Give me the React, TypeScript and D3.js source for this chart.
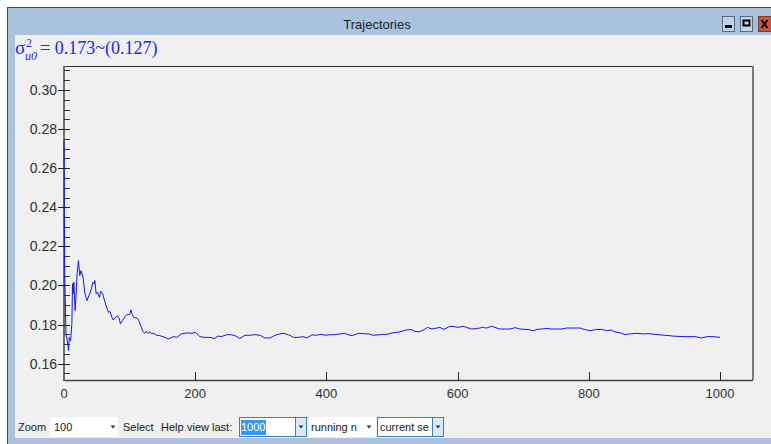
import React from "react";
import * as d3 from "d3";

// ---- data ----
const iterations = [
  0, 1, 3, 5, 7, 8, 10, 12, 13, 14, 15, 17, 19, 20, 22, 24, 26, 29, 32, 35, 38, 41, 44, 46, 47, 49,
  51, 54, 56, 59, 61, 65, 68, 70, 73, 75, 78, 81, 84, 86, 89, 93, 96, 100, 102, 104, 107, 111, 114,
  117, 120, 123, 125, 128, 131, 134, 137, 141, 146, 154, 159, 167, 172, 179, 187, 195, 200, 207, 215,
  223, 229, 235, 240, 248, 256, 262, 268, 276, 284, 291, 299, 306, 314, 322, 329, 334, 342, 350, 357,
  365, 370, 378, 385, 392, 398, 405, 413, 421, 428, 433, 439, 446, 451, 459, 465, 471, 479, 487, 493,
  500, 507, 515, 522, 529, 535, 541, 548, 554, 561, 568, 573, 579, 588, 596, 601, 608, 614, 621, 629,
  638, 644, 652, 657, 664, 672, 680, 688, 695, 703, 709, 715, 721, 728, 736, 743, 751, 759, 766, 776,
  787, 793, 802, 812, 820, 827, 834, 840, 848, 855, 863, 873, 883, 893, 904, 916, 931, 947, 962, 972,
  980, 990, 1000,
];
const values = [
  0.274, 0.2093, 0.1753, 0.1717, 0.1667, 0.1734, 0.1717, 0.1804, 0.2009, 0.1958, 0.2016, 0.1871,
  0.1991, 0.206, 0.2127, 0.205, 0.2076, 0.2042, 0.1957, 0.1922, 0.1948, 0.1973, 0.2016, 0.2008,
  0.2025, 0.1957, 0.1965, 0.1939, 0.197, 0.1957, 0.1931, 0.1888, 0.1862, 0.1867, 0.1837, 0.1823,
  0.1834, 0.1844, 0.1834, 0.1803, 0.182, 0.184, 0.1851, 0.1851, 0.1875, 0.1851, 0.1834, 0.1834,
  0.182, 0.1794, 0.1765, 0.1755, 0.1765, 0.1755, 0.1762, 0.1752, 0.1755, 0.1745, 0.1743, 0.1734,
  0.1726, 0.1738, 0.1734, 0.1752, 0.1757, 0.1755, 0.176, 0.1738, 0.1734, 0.1734, 0.1728, 0.1741,
  0.1738, 0.1748, 0.1747, 0.1741, 0.1728, 0.1745, 0.1745, 0.1748, 0.1745, 0.1731, 0.1731, 0.1745,
  0.1752, 0.1755, 0.1748, 0.1734, 0.1734, 0.1738, 0.1731, 0.1747, 0.1745, 0.175, 0.1745, 0.1748,
  0.1748, 0.1752, 0.1755, 0.1748, 0.1743, 0.1752, 0.1755, 0.1752, 0.1752, 0.1745, 0.1747, 0.175,
  0.175, 0.1757, 0.1759, 0.1765, 0.1772, 0.1774, 0.1765, 0.1762, 0.1772, 0.1785, 0.1777, 0.1782,
  0.1785, 0.1775, 0.1791, 0.1789, 0.1785, 0.1791, 0.1785, 0.1777, 0.1779, 0.1785, 0.1782, 0.1791,
  0.1785, 0.1777, 0.1777, 0.1777, 0.1784, 0.1777, 0.1775, 0.1774, 0.1767, 0.1775, 0.1777, 0.178,
  0.1777, 0.1777, 0.1777, 0.1782, 0.1782, 0.1782, 0.1775, 0.1768, 0.1775, 0.1775, 0.1768, 0.1772,
  0.1762, 0.1757, 0.1748, 0.1752, 0.1755, 0.1752, 0.1753, 0.1748, 0.1745, 0.174, 0.1738, 0.1738,
  0.1731, 0.1738, 0.1738, 0.1734,
];
const xTicks = [0, 200, 400, 600, 800, 1000];
const yTicks = [0.16, 0.18, 0.2, 0.22, 0.24, 0.26, 0.28, 0.3];
const titleText = "Trajectories";
const statValue = "= 0.173~(0.127)";

const W = 771;
const H = 444;
const plot = { left: 64, right: 753, top: 66, bottom: 380 };

export default function App() {
  const x = d3.scaleLinear().domain([0, 1000]).range([plot.left, 720]);
  const y = d3.scaleLinear().domain([0.1516, 0.3123]).range([plot.bottom, plot.top]);
  const pts: [number, number][] = iterations.map((it, i) => [it, values[i]]);
  const line = d3
    .line<[number, number]>()
    .x((d) => x(d[0]))
    .y((d) => y(d[1]));

  const minorY = d3.range(0.155, 0.3123, 0.005).filter(
    (v) => !yTicks.some((t) => Math.abs(t - v) < 1e-6)
  );

  const uiFont = "'Liberation Sans', Arial, sans-serif";
  const arrow = (cx: number, cy: number) => (
    <path d={`M${cx - 2.5},${cy - 1.5} L${cx + 2.5},${cy - 1.5} L${cx},${cy + 1.5} Z`} fill="#333" />
  );

  return (
    <div style={{ position: "absolute", left: 0, top: 0 }}>
      <svg width={W} height={H} style={{ display: "block" }}>
        <rect x={0} y={0} width={W} height={H} fill="#ffffff" />
        {/* window frame */}
        <rect x={7} y={7} width={W - 7} height={H - 7} fill="#a9c2dd" />
        <line x1={7} y1={7.5} x2={W} y2={7.5} stroke="#4a4a4a" />
        <line x1={7.5} y1={7} x2={7.5} y2={H} stroke="#4a4a4a" />
        <rect x={15} y={35} width={W - 15} height={403} fill="#f0f0f0" />
        {/* title */}
        <text
          x={377}
          y={29}
          textAnchor="middle"
          fontFamily={uiFont}
          fontSize={13}
          fill="#1e1e1e"
        >
          {titleText}
        </text>
        {/* title buttons */}
        <rect x={722.5} y={16.5} width={12} height={15} fill="#bfd2e6" stroke="#5a6a7c" />
        <rect x={725} y={25} width={7} height={3} fill="#000" />
        <rect x={740.5} y={16.5} width={12} height={15} fill="#bfd2e6" stroke="#5a6a7c" />
        <rect x={743.5} y={20.5} width={6} height={5} fill="none" stroke="#000" strokeWidth={2} />
        <rect x={758.5} y={16.5} width={13} height={15} fill="#c9543f" stroke="#7a3a30" />
        <path d="M761.5,20 L767.5,28 M767.5,20 L761.5,28" stroke="#000" strokeWidth={2} />

        {/* statistic header */}
        <g fontFamily="'Liberation Serif', 'Times New Roman', serif" fill="#2424ff">
          <text x={15} y={54} fontSize={19}>σ</text>
          <text x={26} y={47} fontSize={12}>2</text>
          <text x={25} y={60} fontSize={12} fontStyle="italic">u0</text>
          <text x={40} y={54} fontSize={18}>{statValue}</text>
        </g>

        {/* plot frame */}
        <line x1={plot.left} y1={plot.top + 0.5} x2={plot.right} y2={plot.top + 0.5} stroke="#2e2e2e" />
        <line x1={plot.right} y1={plot.top} x2={plot.right} y2={plot.bottom} stroke="#7a7a7a" strokeWidth={2} />
        <line x1={plot.left} y1={plot.bottom + 0.5} x2={plot.right} y2={plot.bottom + 0.5} stroke="#444" strokeWidth={1.5} />
        <line x1={plot.left} y1={plot.top} x2={plot.left} y2={plot.bottom + 1} stroke="#6e6e6e" strokeWidth={2} />

        {/* y ticks */}
        {minorY.map((v) => (
          <line key={"m" + v} x1={plot.left} x2={plot.left + 6} y1={Math.round(y(v)) + 0.5} y2={Math.round(y(v)) + 0.5} stroke="#333" />
        ))}
        {yTicks.map((v) => (
          <g key={"y" + v}>
            <line x1={plot.left - 6} x2={plot.left + 6} y1={Math.round(y(v)) + 0.5} y2={Math.round(y(v)) + 0.5} stroke="#222" />
            <text
              x={plot.left - 7}
              y={y(v) + 5}
              textAnchor="end"
              fontFamily={uiFont}
              fontSize={14}
              fill="#303030"
            >
              {v.toFixed(2)}
            </text>
          </g>
        ))}

        {/* x ticks */}
        {xTicks.map((v) => (
          <g key={"x" + v}>
            {v > 0 && (
              <line x1={Math.round(x(v)) + 0.5} x2={Math.round(x(v)) + 0.5} y1={plot.bottom - 8} y2={plot.bottom} stroke="#222" />
            )}
            <text
              x={x(v)}
              y={398}
              textAnchor="middle"
              fontFamily="'Liberation Sans Narrow', 'Liberation Sans', Arial, sans-serif"
              fontSize={13}
              fill="#303030"
            >
              {v}
            </text>
          </g>
        ))}

        {/* trajectory */}
        <path d={line(pts) || ""} fill="none" stroke="#1515ff" strokeWidth={1} />

        {/* bottom toolbar */}
        <g fontFamily={uiFont} fontSize={11} fill="#1a1a1a">
          <text x={18} y={431}>Zoom</text>
          <rect x={50} y={417} width={68} height={20} fill="#ffffff" />
          <text x={54} y={431}>100</text>
          {arrow(113, 427)}
          <text x={123} y={431}>Select</text>
          <text x={161} y={431}>Help</text>
          <text x={187} y={431}>view last:</text>

          <rect x={239.5} y={417.5} width={67} height={19} fill="#ffffff" stroke="#3c7fb1" />
          <rect x={241} y={420} width={25} height={15} fill="#3399ff" />
          <text x={241} y={431} fill="#ffffff">1000</text>
          <rect x={295.5} y={417.5} width={11} height={19} fill="#dbe9f7" stroke="#3c7fb1" />
          {arrow(301, 427)}

          <rect x={309} y={417} width={67} height={20} fill="#ffffff" />
          <text x={311} y={431}>running n</text>
          {arrow(369, 427)}

          <rect x={377.5} y={417.5} width={66} height={19} fill="#ffffff" stroke="#3c7fb1" />
          <text x={380} y={431}>current se</text>
          <rect x={432.5} y={417.5} width={11} height={19} fill="#dbe9f7" stroke="#3c7fb1" />
          {arrow(438, 427)}
        </g>
      </svg>
    </div>
  );
}
